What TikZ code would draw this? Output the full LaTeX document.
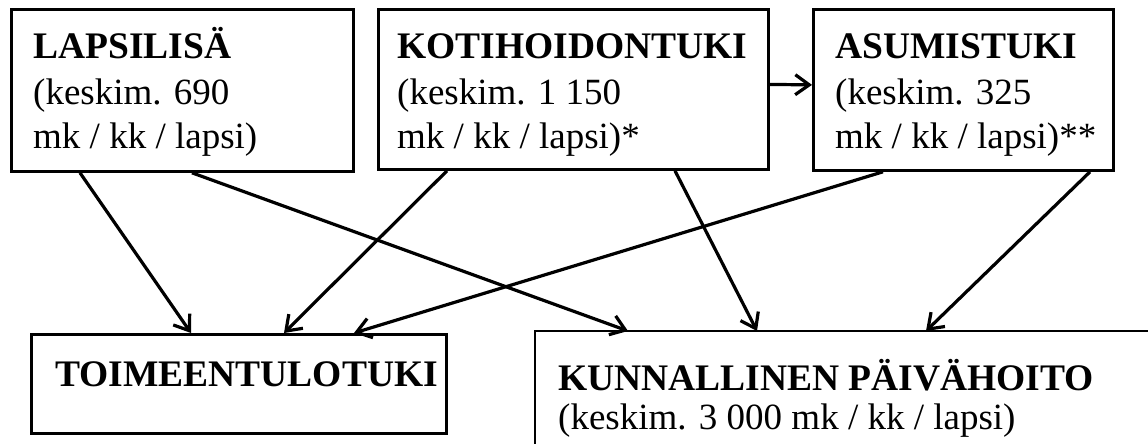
\documentclass[tikz,border=0pt]{standalone}
\usepackage{fontspec}
\setmainfont{Liberation Serif}
\usetikzlibrary{arrows.meta}
\begin{document}
\begin{tikzpicture}[x=1pt,y=-1pt,
  box/.style={draw, line width=2.8pt, inner sep=0pt, anchor=north west},
  arr/.style={line width=3.2pt, -{Straight Barb[length=14pt,width=20pt,line width=3.2pt]}},
  txt/.style={anchor=base west, inner sep=0pt, font=\fontsize{37}{44}\selectfont},
  btxt/.style={anchor=base west, inner sep=0pt, font=\fontsize{37.5}{44}\selectfont\bfseries}]
\useasboundingbox (0,0) rectangle (1148,444);
% boxes
\node[box, minimum width=342pt, minimum height=162pt] (b1) at (10,8) {};
\node[box, minimum width=390pt, minimum height=160pt] (b2) at (377,8) {};
\node[box, minimum width=300pt, minimum height=161pt] (b3) at (812,8) {};
\node[box, minimum width=415pt, minimum height=99pt] (b4) at (30,333) {};
\node[box, draw=none, minimum width=700pt, minimum height=111pt] (b5) at (535,331) {};
\draw[line width=2.8pt] (b5.south west) -- (b5.north west) -- (b5.north east);
\draw[line width=0.8pt, black!35, dotted] (b5.south west) -- (b5.south east);
% texts
\node[btxt] (t1a) at (33,59) {LAPSILISÄ};
\node[txt] (t1b) at (33,104) {(keskim. 690};
\node[txt] (t1c) at (33,148) {mk / kk / lapsi)};
\node[btxt] (t2a) at (397,59) {KOTIHOIDONTUKI};
\node[txt] (t2b) at (397,104) {(keskim. 1 150};
\node[txt] (t2c) at (397,148) {mk / kk / lapsi)*};
\node[btxt] (t3a) at (835,59) {ASUMISTUKI};
\node[txt] (t3b) at (835,104) {(keskim. 325};
\node[txt] (t3c) at (835,148) {mk / kk / lapsi)**};
\node[btxt] (t4a) at (55,386) {TOIMEENTULOTUKI};
\node[btxt] (t5a) at (558,390) {KUNNALLINEN PÄIVÄHOITO};
\node[txt] (t5b) at (558,429) {(keskim. 3 000 mk / kk / lapsi)};
% arrows
\draw[arr] ([xshift=70pt]b1.south west) -- ([xshift=161pt]b4.north west);
\draw[arr] ([xshift=182pt]b1.south west) -- ([xshift=93pt]b5.north west);
\draw[arr] ([xshift=70pt]b2.south west) -- ([xshift=254pt]b4.north west);
\draw[arr] ([xshift=298pt]b2.south west) -- ([xshift=222pt]b5.north west);
\draw[arr] ([xshift=71pt]b3.south west) -- ([xshift=324pt]b4.north west);
\draw[arr] ([xshift=278pt]b3.south west) -- ([xshift=391pt]b5.north west);
\draw[arr] ([yshift=5pt]b2.east) -- ([yshift=5pt]b3.west);
\end{tikzpicture}
\end{document}
